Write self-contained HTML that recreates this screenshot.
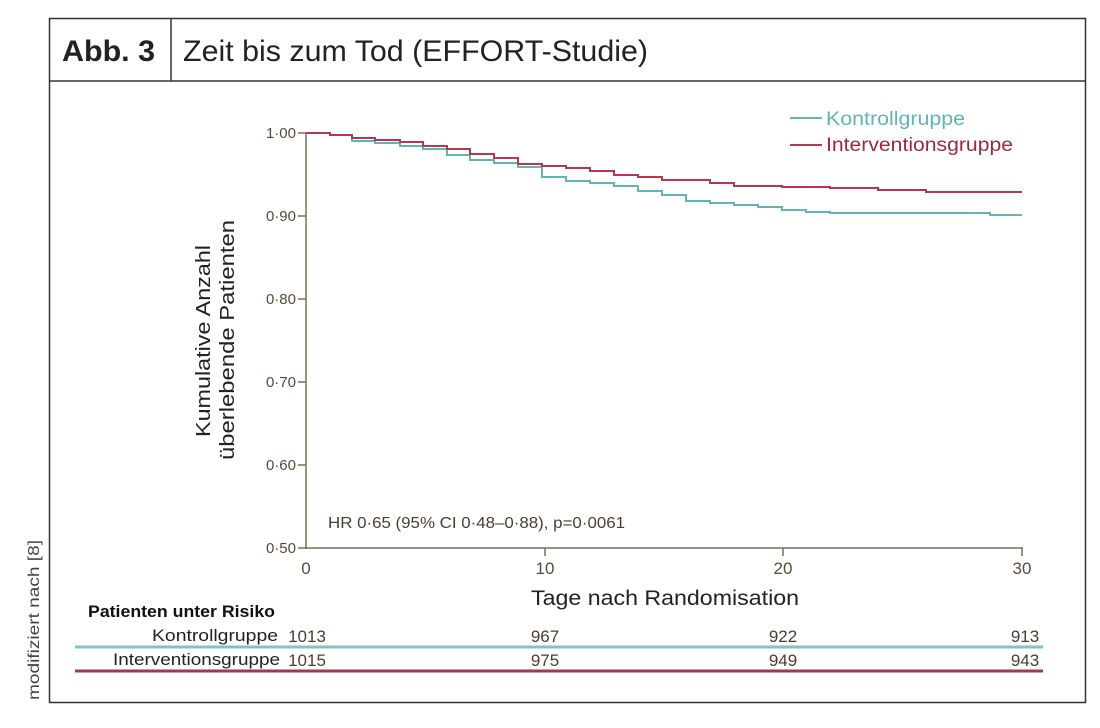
<!DOCTYPE html>
<html><head><meta charset="utf-8"><style>
body{margin:0;background:#fff;width:1100px;height:723px;overflow:hidden;font-family:"Liberation Sans",sans-serif}
</style></head><body>
<svg width="1100" height="723" xmlns="http://www.w3.org/2000/svg" font-family="Liberation Sans, sans-serif">
<rect x="49.5" y="18.5" width="1036" height="684" fill="none" stroke="#333" stroke-width="1.5"/>
<line x1="49" y1="81" x2="1086" y2="81" stroke="#333" stroke-width="1.5"/>
<line x1="171" y1="18" x2="171" y2="81" stroke="#333" stroke-width="1.5"/>
<text x="62" y="61" font-size="30" font-weight="bold" fill="#222" textLength="93" lengthAdjust="spacingAndGlyphs">Abb. 3</text>
<text x="183" y="61" font-size="30" fill="#222" textLength="465" lengthAdjust="spacingAndGlyphs">Zeit bis zum Tod (EFFORT-Studie)</text>
<text transform="translate(39,700) rotate(-90)" font-size="16" fill="#444" textLength="160" lengthAdjust="spacingAndGlyphs">modifiziert nach [8]</text>
<g stroke="#7a6e5a" stroke-width="1.5" fill="none">
<line x1="306" y1="133" x2="306" y2="549"/>
<line x1="305" y1="548" x2="1023" y2="548"/>
<line x1="298" y1="133" x2="306" y2="133"/><line x1="298" y1="216" x2="306" y2="216"/>
<line x1="298" y1="299" x2="306" y2="299"/><line x1="298" y1="382" x2="306" y2="382"/>
<line x1="298" y1="465" x2="306" y2="465"/><line x1="298" y1="548" x2="306" y2="548"/>
<line x1="545" y1="548" x2="545" y2="556"/><line x1="783" y1="548" x2="783" y2="556"/><line x1="1022" y1="548" x2="1022" y2="556"/>
</g>
<g font-size="15" fill="#5a4a3a" text-anchor="end">
<text x="296" y="138">1·00</text><text x="296" y="221">0·90</text><text x="296" y="304">0·80</text>
<text x="296" y="387">0·70</text><text x="296" y="470">0·60</text><text x="296" y="553">0·50</text>
</g>
<g font-size="17" fill="#5a4a3a" text-anchor="middle">
<text x="306" y="574">0</text><text x="545" y="574">10</text><text x="783" y="574">20</text><text x="1022" y="574">30</text>
</g>
<text x="531" y="605" font-size="21" fill="#222" textLength="268" lengthAdjust="spacingAndGlyphs">Tage nach Randomisation</text>
<text transform="translate(210,437) rotate(-90)" font-size="20" fill="#222" textLength="192" lengthAdjust="spacingAndGlyphs">Kumulative Anzahl</text>
<text transform="translate(234,460) rotate(-90)" font-size="20" fill="#222" textLength="240" lengthAdjust="spacingAndGlyphs">überlebende Patienten</text>
<text x="328" y="528" font-size="16" fill="#4a3e30" textLength="297" lengthAdjust="spacingAndGlyphs">HR 0·65 (95% CI 0·48–0·88), p=0·0061</text>
<polyline fill="none" stroke="#5fb5b8" stroke-width="2" points="306,133 330,133 330,135 352,135 352,141 375,141 375,143 400,143 400,146 423,146 423,149 447,149 447,155 470,155 470,160 494,160 494,163 518,163 518,167 542,167 542,177 566,177 566,181 590,181 590,183 614,183 614,186 638,186 638,191 662,191 662,195 686,195 686,201 710,201 710,203 734,203 734,205 758,205 758,207 782,207 782,210 806,210 806,212 830,212 830,213 990,213 990,215 1022,215"/>
<polyline fill="none" stroke="#b8364f" stroke-width="2" points="306,133 330,133 330,135 352,135 352,138 375,138 375,140 400,140 400,142 423,142 423,146 447,146 447,149 470,149 470,154 494,154 494,158 518,158 518,164 542,164 542,166 566,166 566,168 590,168 590,171 614,171 614,175 638,175 638,177 662,177 662,180 710,180 710,183 734,183 734,186 782,186 782,187 830,187 830,188 878,188 878,190 926,190 926,192 1022,192"/>
<line x1="790" y1="118" x2="822" y2="118" stroke="#5fb5b8" stroke-width="2"/>
<text x="826" y="125" font-size="19" fill="#5fb5b8" textLength="139" lengthAdjust="spacingAndGlyphs">Kontrollgruppe</text>
<line x1="790" y1="145" x2="822" y2="145" stroke="#b8364f" stroke-width="2"/>
<text x="826" y="151" font-size="19" fill="#9a2a40" textLength="187" lengthAdjust="spacingAndGlyphs">Interventionsgruppe</text>
<text x="88" y="617" font-size="17" font-weight="bold" fill="#111" textLength="187" lengthAdjust="spacingAndGlyphs">Patienten unter Risiko</text>
<text x="152" y="641" font-size="17" fill="#222" textLength="126" lengthAdjust="spacingAndGlyphs">Kontrollgruppe</text>
<text x="113" y="665" font-size="17" fill="#222" textLength="167" lengthAdjust="spacingAndGlyphs">Interventionsgruppe</text>
<g font-size="17" fill="#4a3e30" text-anchor="middle">
<text x="307" y="642">1013</text><text x="545" y="642">967</text><text x="783" y="642">922</text><text x="1025" y="642">913</text>
<text x="307" y="666">1015</text><text x="545" y="666">975</text><text x="783" y="666">949</text><text x="1025" y="666">943</text>
</g>
<line x1="75" y1="647" x2="1043" y2="647" stroke="#7ec3c6" stroke-width="3"/>
<line x1="75" y1="671" x2="1043" y2="671" stroke="#a0384f" stroke-width="3"/>
</svg>
</body></html>
